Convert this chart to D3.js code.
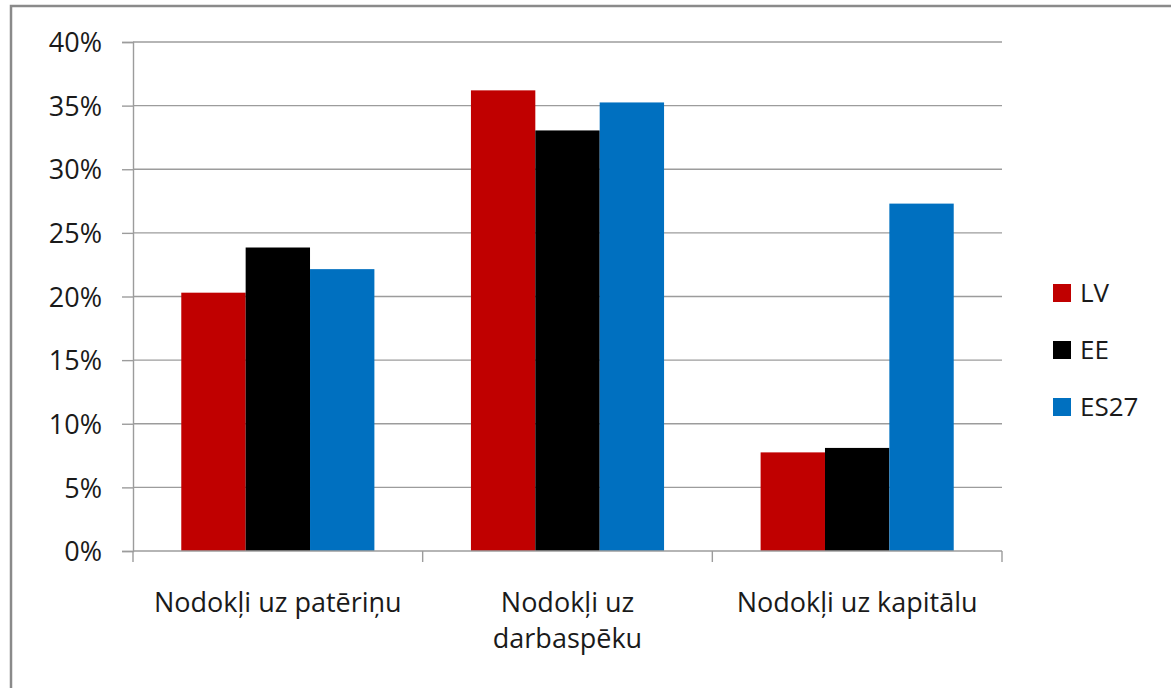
<!DOCTYPE html>
<html>
<head>
<meta charset="utf-8">
<script src="https://cdn.jsdelivr.net/npm/d3@7"></script>
<style>
  html, body { margin: 0; padding: 0; background: #fff; }
  svg { display: block; }
  text { font-family: "Open Sans", "Noto Sans", sans-serif; fill: #1a1a1a; }
</style>
</head>
<body>
<svg id="chart" width="1171" height="688"></svg>
<script>
const categories = [["Nodokļi uz patēriņu"], ["Nodokļi uz", "darbaspēku"], ["Nodokļi uz kapitālu"]];
const series = ["LV", "EE", "ES27"];
const colors = ["#C00000", "#000000", "#0070C0"];
const valuesLV = [20.3, 36.2, 7.75];
const valuesEE = [23.85, 33.05, 8.1];
const valuesES27 = [22.15, 35.25, 27.3];
const yTicks = [0, 5, 10, 15, 20, 25, 30, 35, 40];

(function () {
const seriesValues = [valuesLV, valuesEE, valuesES27];

const svg = d3.select("#chart");

// outer border
svg.append("rect")
  .attr("x", 11).attr("y", 6)
  .attr("width", 1200).attr("height", 720)
  .attr("fill", "none").attr("stroke", "#8a8a8a").attr("stroke-width", 2.5);

const pLeft = 133, pRight = 1002, pTop = 42, pBottom = 551;

const x0 = d3.scaleBand().domain(d3.range(categories.length)).range([pLeft, pRight]).paddingInner(0).paddingOuter(0);
const x1 = d3.scaleBand().domain(series).range([0, x0.bandwidth()]).paddingInner(0).paddingOuter(0.75);
const y = d3.scaleLinear().domain([0, 40]).range([pBottom, pTop]);

// gridlines
svg.append("g").selectAll("line").data(yTicks.filter(d => d > 0)).join("line")
  .attr("x1", pLeft).attr("x2", pRight)
  .attr("y1", d => y(d)).attr("y2", d => y(d))
  .attr("stroke", "#9c9c9c").attr("stroke-width", 1.4);

// bars
const groups = svg.append("g").selectAll("g").data(series).join("g")
  .attr("fill", (d, i) => colors[i]);
groups.selectAll("rect").data((s, si) => seriesValues[si].map((v, ci) => ({ s, v, ci }))).join("rect")
  .attr("x", d => x0(d.ci) + x1(d.s))
  .attr("width", x1.bandwidth())
  .attr("y", d => y(d.v))
  .attr("height", d => y(0) - y(d.v));

// y axis
const yAxis = d3.axisLeft(y).tickValues(yTicks).tickFormat(d => d + "%").tickSize(11).tickPadding(20);
const gy = svg.append("g").attr("transform", `translate(${pLeft},0)`).call(yAxis);
gy.select(".domain").attr("stroke", "#9c9c9c").attr("stroke-width", 1.4);
gy.selectAll(".tick line").attr("stroke", "#9c9c9c").attr("stroke-width", 1.4);
gy.selectAll(".tick text").attr("font-size", 27).attr("font-family", "Open Sans").attr("fill", "#1a1a1a").attr("dy", "0.36em");

// x axis line + ticks at band boundaries
const xBoundaries = d3.range(categories.length + 1).map(i => i < categories.length ? x0(i) : x0(i - 1) + x0.bandwidth());
svg.append("line").attr("x1", pLeft).attr("x2", pRight).attr("y1", pBottom).attr("y2", pBottom)
  .attr("stroke", "#9c9c9c").attr("stroke-width", 1.4);
svg.append("g").selectAll("line").data(xBoundaries).join("line")
  .attr("x1", d => d).attr("x2", d => d).attr("y1", pBottom).attr("y2", pBottom + 11)
  .attr("stroke", "#9c9c9c").attr("stroke-width", 1.4);

// category labels
const labels = svg.append("g").selectAll("text").data(categories).join("text")
  .attr("text-anchor", "middle").attr("font-size", 27)
  .attr("x", (d, i) => x0(i) + x0.bandwidth() / 2)
  .attr("y", 612);
labels.selectAll("tspan").data(d => d).join("tspan")
  .attr("x", function() { return d3.select(this.parentNode).attr("x"); })
  .attr("dy", (d, i) => i === 0 ? 0 : 36)
  .text(d => d);

// legend
const legend = svg.append("g").selectAll("g").data(series).join("g")
  .attr("transform", (d, i) => `translate(1053, ${293 + i * 57})`);
legend.append("rect").attr("x", 0).attr("y", -9).attr("width", 18).attr("height", 18)
  .attr("fill", (d, i) => colors[i]);
legend.append("text").attr("x", 27).attr("y", 0).attr("dy", "0.36em")
  .attr("font-size", 26).text(d => d);
})();
</script>
</body>
</html>
